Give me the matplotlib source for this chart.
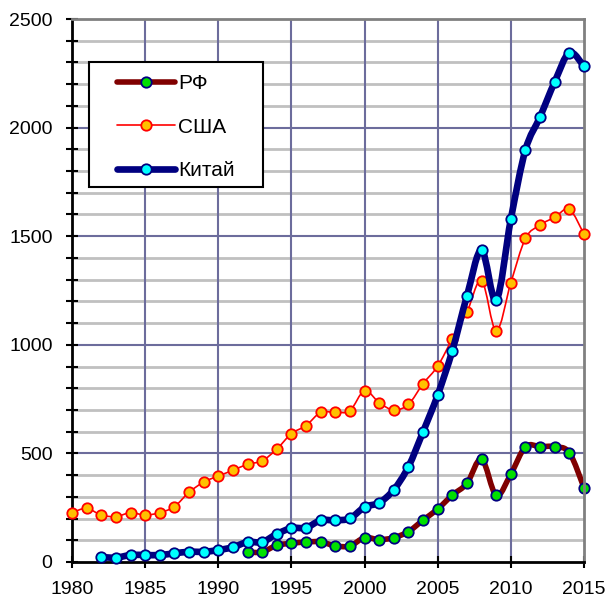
import numpy as np
import matplotlib
matplotlib.use("Agg")
import matplotlib.pyplot as plt
from matplotlib.path import Path
from matplotlib.patches import PathPatch, Rectangle
from matplotlib.lines import Line2D

plt.rcParams['font.family'] = ['Liberation Sans', 'DejaVu Sans']

years_rf = list(range(1992, 2016))
rf = [46, 46, 77, 86, 92, 93, 74, 74, 112, 103, 112, 140, 193, 244, 308, 362, 474, 307, 405, 531, 531, 531, 503, 342]

years_usa = list(range(1980, 2016))
usa = [227, 247, 216, 209, 227, 216, 227, 255, 321, 368, 396, 422, 450, 466, 520, 591, 628, 689, 689, 697,
       789, 733, 700, 726, 821, 902, 1028, 1151, 1296, 1064, 1286, 1490, 1552, 1587, 1624, 1509]

years_cn = list(range(1982, 2016))
china = [23, 20, 32, 32, 32, 40, 47, 47, 55, 68, 92, 92, 129, 156, 158, 192, 192, 201,
         253, 273, 333, 439, 600, 769, 973, 1225, 1436, 1205, 1579, 1898, 2050, 2211, 2345, 2282]

labels = ['РФ', 'США', 'Китай']
x_ticks = [1980, 1985, 1990, 1995, 2000, 2005, 2010, 2015]
y_ticks = [0, 500, 1000, 1500, 2000, 2500]


def smooth_path(x, y):
    x = np.asarray(x, float)
    y = np.asarray(y, float)
    pts = np.column_stack([x, y])
    n = len(pts)
    verts = [pts[0]]
    codes = [Path.MOVETO]
    for i in range(n - 1):
        p0 = pts[i - 1] if i > 0 else pts[i]
        p1 = pts[i]
        p2 = pts[i + 1]
        p3 = pts[i + 2] if i + 2 < n else pts[i + 1]
        c1 = p1 + (p2 - p0) / 6.0
        c2 = p2 - (p3 - p1) / 6.0
        verts += [c1, c2, p2]
        codes += [Path.CURVE4] * 3
    return Path(verts, codes)


W, H = 608, 604
L, B, AW, AH = 72, 42, 512, 543
fig = plt.figure(figsize=(W / 100, H / 100), dpi=100)
ax = fig.add_axes([L / W, B / H, AW / W, AH / H])

ax.set_xlim(1980, 2015)
ax.set_ylim(0, 2500)

# grid
for yv in range(100, 2500, 100):
    if yv % 500:
        ax.axhline(yv, color='#c0c0c0', lw=2.0, zorder=0)
for yv in y_ticks[1:-1]:
    ax.axhline(yv, color='#6c6c9c', lw=1.5, zorder=0.5)
for xv in x_ticks[1:-1]:
    ax.axvline(xv, color='#6c6c9c', lw=1.5, zorder=0.5)

series = [
    (years_rf, rf, '#800000', 4.0, '#00e000', '#000080'),
    (years_usa, usa, '#ff0000', 1.2, '#ffc000', '#ff0000'),
    (years_cn, china, '#000080', 4.8, '#00ffff', '#000080'),
]
handles = []
for k, (xs, ys, lc, lw, mfc, mec) in enumerate(series):
    patch = PathPatch(smooth_path(xs, ys), facecolor='none', edgecolor=lc, lw=lw,
                      capstyle='round', joinstyle='round', zorder=2 + k)
    ax.add_patch(patch)
    ax.plot(xs, ys, linestyle='none', marker='o', ms=7.5, mfc=mfc, mec=mec, mew=1.3,
            zorder=2.5 + k, clip_on=False)
    handles.append(Line2D([0], [0], color=lc, lw=lw, marker='o', ms=7.5, mfc=mfc, mec=mec, mew=1.3,
                          solid_capstyle='round'))

# legend frame (pixel coords from top-left of figure)
fx0, fy0, fx1, fy1 = 89, 62, 263, 187
ax.add_patch(Rectangle(((fx0 - L) / AW, 1 - (fy1 - (H - B - AH)) / AH), (fx1 - fx0) / AW, (fy1 - fy0) / AH,
                       transform=ax.transAxes, facecolor='white', edgecolor='black', lw=1.5, zorder=9))

leg = ax.legend(handles, labels, loc='upper left',
                bbox_to_anchor=((117 - L) / AW, 1 - (74 - (H - B - AH)) / AH),
                fontsize=15, frameon=False,
                handlelength=2.8, handletextpad=0.15, labelspacing=1.18, borderpad=0,
                borderaxespad=0)
leg.set_zorder(10)

ax.set_xticks(x_ticks)
ax.set_yticks(y_ticks)
ax.set_yticks(range(0, 2501, 100), minor=True)
ax.tick_params(axis='both', which='both', direction='inout', length=8, width=1.5, color='black',
               labelsize=14)
ax.tick_params(axis='x', pad=10)
ax.tick_params(axis='y', pad=10)
ax.tick_params(axis='x', which='minor', length=0)

for s in ['left', 'bottom']:
    ax.spines[s].set_color('black')
    ax.spines[s].set_linewidth(2)
for s in ['top', 'right']:
    ax.spines[s].set_color('#808080')
    ax.spines[s].set_linewidth(2)
ax.set_axisbelow(True)

fig.savefig('out.png', dpi=100)
